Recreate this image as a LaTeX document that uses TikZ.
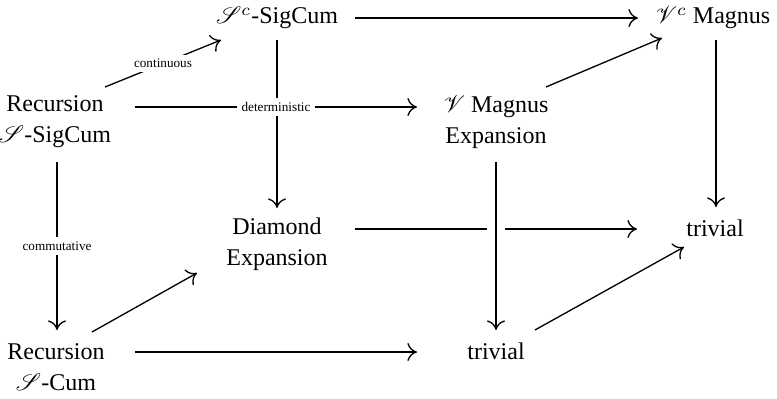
\documentclass[tikz,border=0pt]{standalone}
\usepackage{fontspec}
\setmainfont{Liberation Serif}
\usepackage{mathrsfs}
\usetikzlibrary{arrows.meta}

\begin{document}
\begin{tikzpicture}[x=0.4167pt, y=0.4167pt, every node/.style={font=\fontsize{10}{13}\selectfont},
			obj/.style={align=center, inner sep=0pt},
			cdar/.style={line width=0.55pt, -{Computer Modern Rightarrow[length=4pt,width=7.5pt]}},
			lbl/.style={fill=white, inner sep=1.8pt, font=\fontsize{5.5}{6}\selectfont},
			over/.style={preaction={draw=white, line width=7.5pt, -}}]
			\useasboundingbox (0,0) rectangle (777,398);
			% back face
			\node[obj] (sc) at (277,380) {$\mathscr{S}^c$-SigCum};
			\node[obj] (vc) at (713,380) {$\mathscr{V}^c$\ Magnus};
			\node[obj] (dm) at (277,154) {Diamond\\Expansion};
			\node[obj] (tr) at (715,170) {trivial};
			% front face
			\node[obj] (rs) at (55,276) {Recursion\\$\mathscr{S}$-SigCum};
			\node[obj] (vm) at (496,276) {$\mathscr{V}$\ Magnus\\Expansion};
			\node[obj] (rc) at (56,31) {Recursion\\$\mathscr{S}$-Cum};
			\node[obj] (tb) at (496,47) {trivial};
			\draw[cdar] ([shift={(78,0)}]sc.center) -- ([shift={(-75,0)}]vc.center);
			\draw[cdar] ([shift={(0,-22)}]sc.center) -- ([shift={(0,36)}]dm.center);
			\draw[cdar] ([shift={(3,-22)}]vc.center) -- ([shift={(1,21)}]tr.center);
			\draw[cdar] ([shift={(78,15)}]dm.center) -- ([shift={(-78,-1)}]tr.center);
			\draw[cdar] ([shift={(50,35)}]rs.center) -- node[lbl] {continuous} ([shift={(-56,-22)}]sc.center);
			\draw[cdar] ([shift={(80,15)}]rs.center) -- node[lbl] {deterministic} ([shift={(-79,15)}]vm.center);
			\draw[cdar] ([shift={(2,-40)}]rs.center) -- node[lbl] {commutative} ([shift={(1,37)}]rc.center);
			\draw[cdar] ([shift={(50,35)}]vm.center) -- ([shift={(-51,-20)}]vc.center);
			\draw[cdar, over] ([shift={(0,-40)}]vm.center) -- ([shift={(0,21)}]tb.center);
			\draw[cdar] ([shift={(36,35)}]rc.center) -- ([shift={(-80,-29)}]dm.center);
			\draw[cdar] ([shift={(79,15)}]rc.center) -- ([shift={(-79,-1)}]tb.center);
			\draw[cdar] ([shift={(39,21)}]tb.center) -- ([shift={(-31,-19)}]tr.center);
		\end{tikzpicture}
\end{document}
